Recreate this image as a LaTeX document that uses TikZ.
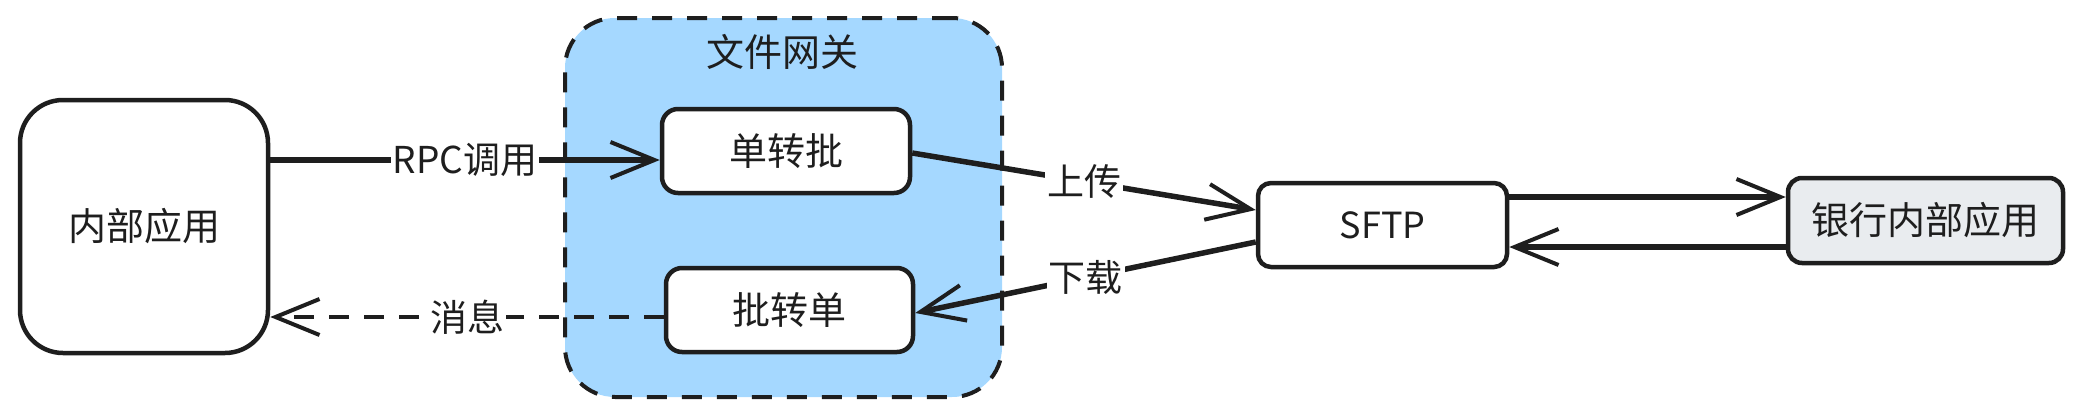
\documentclass[tikz,border=0pt]{standalone}
\usepackage{fontspec}
\setmainfont{Noto Sans CJK SC}
\usetikzlibrary{arrows.meta}
\definecolor{ink}{HTML}{1E1E1E}
\definecolor{gwblue}{HTML}{A5D8FF}
\definecolor{bankgray}{HTML}{E9ECEF}
\tikzset{
  box/.style={draw=ink, line width=4.5pt, fill=white, align=center, inner sep=0pt,
    font=\fontsize{38pt}{42pt}\selectfont, text=ink},
  conn/.style={draw=ink, line width=5.5pt, -{Straight Barb[length=44pt,width=36pt,line width=4pt]}},
  lbl/.style={fill=white, inner sep=2pt, font=\fontsize{37pt}{40pt}\selectfont, text=ink},
  dashline/.style={dash pattern=on 20pt off 15pt},
}
\begin{document}
\begin{tikzpicture}[x=1pt,y=-1pt]
\useasboundingbox (0,0) rectangle (2085,416);
% gateway container
\node[draw=ink, line width=4pt, dashline, fill=gwblue, rounded corners=50pt,
      minimum width=437pt, minimum height=379pt, inner sep=0pt] (gw) at (783.5,207.5) {};
\node[font=\fontsize{38pt}{42pt}\selectfont, text=ink, inner sep=0pt] (gwtitle) at (782,52) {文件网关};
% nodes
\node[box, rounded corners=43pt, minimum width=248pt, minimum height=253pt] (app) at (144,226.5) {内部应用};
\node[box, rounded corners=16pt, minimum width=248pt, minimum height=84pt] (s2b) at (786,151) {单转批};
\node[box, rounded corners=16pt, minimum width=247pt, minimum height=84pt] (b2s) at (789.5,310) {批转单};
\node[box, rounded corners=13pt, minimum width=249pt, minimum height=84pt,
      font=\fontsize{36pt}{40pt}\selectfont] (sftp) at (1382.5,225) {SFTP};
\node[box, fill=bankgray, rounded corners=14pt, minimum width=275pt, minimum height=85pt] (bank) at (1925.5,220.5) {银行内部应用};
% connectors
\coordinate (rpcA) at ([yshift=-9pt]s2b.west);
\draw[conn] (app.east |- rpcA) -- node[lbl] {RPC调用} (rpcA);
\coordinate (msgA) at ([yshift=-7pt]b2s.west);
\draw[conn, line width=4.5pt, dashline] (msgA) -- node[lbl] {消息} (app.east |- msgA);
\draw[conn] ([yshift=-2pt]s2b.east) -- node[lbl] {上传} ([yshift=15pt]sftp.west);
\draw[conn] ([yshift=-17pt]sftp.west) -- node[lbl] {下载} ([yshift=-3pt]b2s.east);
\coordinate (toBank) at ([yshift=28pt]sftp.east);
\draw[conn] (toBank) -- (bank.west |- toBank);
\coordinate (fromBank) at ([yshift=-22pt]sftp.east);
\draw[conn] (bank.west |- fromBank) -- (fromBank);
\end{tikzpicture}
\end{document}
